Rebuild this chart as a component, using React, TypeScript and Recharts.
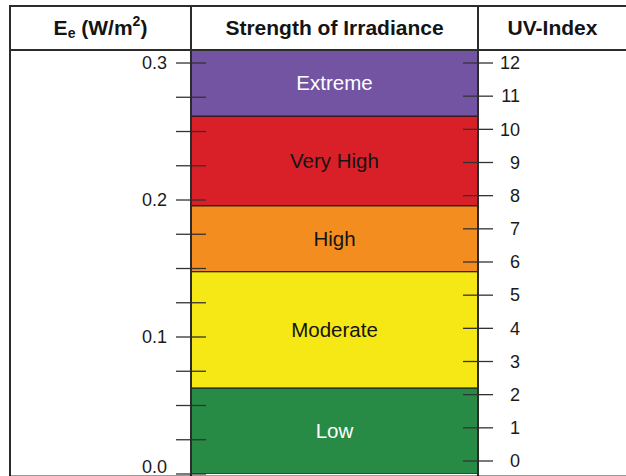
import { BarChart, Bar, XAxis, YAxis, LabelList } from 'recharts';

// UV strength bands, upper edge of each band in W/m²
const bandNames = ['Low', 'Moderate', 'High', 'Very High', 'Extreme'];
const bandTops = [0.0628, 0.1477, 0.1958, 0.2613, 0.31];
const bandColors = ['#278b45', '#f5e814', '#f48d1f', '#d91f27', '#7354a3'];
const bandTextColors = ['#ffffff', '#141414', '#141414', '#141414', '#ffffff'];

// axis ticks
const irradianceTicks = [0, 0.025, 0.05, 0.075, 0.1, 0.125, 0.15, 0.175, 0.2, 0.225, 0.25, 0.275, 0.3];
const irradianceLabelled = [0, 0.1, 0.2, 0.3];
const uvTicks = [0, 1, 2, 3, 4, 5, 6, 7, 8, 9, 10, 11, 12];

const headers = ['Strength of Irradiance', 'UV-Index'];

// stacked bar needs band heights, so take differences of the tops
const row: Record<string, number | string> = { name: 'scale' };
bandNames.forEach((n, i) => {
    row[n] = bandTops[i] - (i === 0 ? 0 : bandTops[i - 1]);
});
const data = [row];

const FONT = '"Liberation Sans", Arial, Helvetica, sans-serif';
const LINE = '#2b2b2b';

const LeftTick = (props: any) => {
    const { x, y, payload } = props;
    const v = payload.value;
    const showLabel = irradianceLabelled.some(t => Math.abs(t - v) < 1e-6);
    return (
        <g>
            <line x1={x - 15} x2={x + 15} y1={y} y2={y} stroke="#333" strokeWidth={1.3} />
            {showLabel && (
                <text
                    x={x - 24}
                    y={y}
                    dy={v === 0 ? -1 : '0.35em'}
                    textAnchor="end"
                    fontSize={18}
                    fontFamily={FONT}
                    fill="#1a1a1a"
                >
                    {v.toFixed(1)}
                </text>
            )}
        </g>
    );
};

const RightTick = (props: any) => {
    const { x, y, payload } = props;
    return (
        <g>
            <line x1={x - 15} x2={x + 15} y1={y} y2={y} stroke="#333" strokeWidth={1.3} />
            <text x={x + 42} y={y} dy="0.35em" textAnchor="end" fontSize={18} fontFamily={FONT} fill="#1a1a1a">
                {payload.value}
            </text>
        </g>
    );
};

const bandLabel = (color: string) => (p: any) => {
    const vb = p.viewBox || p;
    return (
        <text
            x={vb.x + vb.width / 2}
            y={vb.y + vb.height / 2}
            dy="0.35em"
            textAnchor="middle"
            fontSize={20.5}
            fontFamily={FONT}
            fill={color}
        >
            {p.value}
        </text>
    );
};

export default function App() {
    return (
        <div
            style={{
                position: 'absolute',
                left: 0,
                top: 0,
                width: 626,
                height: 476,
                overflow: 'hidden',
                background: '#fff',
                fontFamily: FONT,
            }}
        >
            <div style={{ position: 'absolute', left: 0, top: 0 }}>
                <BarChart
                    width={626}
                    height={476}
                    data={data}
                    margin={{ top: 50, right: 0, bottom: 2, left: 0 }}
                    barCategoryGap={0}
                >
                    <XAxis dataKey="name" hide />
                    {bandNames.map((n, i) => (
                        <Bar
                            key={n}
                            dataKey={n}
                            stackId="uv"
                            yAxisId="e"
                            fill={bandColors[i]}
                            stroke="#1a1a1a"
                            strokeWidth={1}
                            isAnimationActive={false}
                        >
                            <LabelList dataKey={() => n} content={bandLabel(bandTextColors[i])} />
                        </Bar>
                    ))}
                    <YAxis
                        yAxisId="e"
                        orientation="left"
                        width={191}
                        type="number"
                        domain={[0, 0.3095]}
                        allowDataOverflow
                        ticks={irradianceTicks}
                        interval={0}
                        tickSize={0}
                        tickMargin={0}
                        tickLine={false}
                        axisLine={{ stroke: LINE, strokeWidth: 2 }}
                        tick={<LeftTick />}
                    />
                    <YAxis
                        yAxisId="uv"
                        orientation="right"
                        width={148}
                        type="number"
                        domain={[-0.392, 12.392]}
                        allowDataOverflow
                        ticks={uvTicks}
                        interval={0}
                        tickSize={0}
                        tickMargin={0}
                        tickLine={false}
                        axisLine={{ stroke: LINE, strokeWidth: 2 }}
                        tick={<RightTick />}
                    />
                </BarChart>
            </div>

            {/* table frame */}
            <div style={{ position: 'absolute', left: 9, top: 5, width: 617, height: 2, background: LINE }} />
            <div style={{ position: 'absolute', left: 9, top: 48.5, width: 617, height: 2, background: LINE }} />
            <div style={{ position: 'absolute', left: 9, top: 5, width: 2, height: 471, background: LINE }} />
            <div style={{ position: 'absolute', left: 190, top: 5, width: 2, height: 471, background: LINE }} />
            <div style={{ position: 'absolute', left: 477, top: 5, width: 2, height: 471, background: LINE }} />
            <div style={{ position: 'absolute', left: 9, top: 475, width: 617, height: 1, background: 'rgba(0,0,0,0.4)' }} />

            {/* header */}
            <div
                style={{
                    position: 'absolute',
                    left: 11,
                    top: 7,
                    width: 179,
                    height: 42,
                    display: 'flex',
                    alignItems: 'center',
                    justifyContent: 'center',
                    fontWeight: 'bold',
                    fontSize: 21,
                    color: '#141414',
                    whiteSpace: 'nowrap',
                }}
            >
                E<span style={{ fontSize: 14, position: 'relative', top: 5 }}>e</span>&nbsp;(W/m
                <span style={{ fontSize: 14, position: 'relative', top: -7 }}>2</span>)
            </div>
            {headers.map((h, i) => (
                <div
                    key={h}
                    style={{
                        position: 'absolute',
                        left: i === 0 ? 192 : 479,
                        top: 7,
                        width: i === 0 ? 285 : 147,
                        height: 42,
                        display: 'flex',
                        alignItems: 'center',
                        justifyContent: 'center',
                        fontWeight: 'bold',
                        fontSize: 21,
                        color: '#141414',
                        whiteSpace: 'nowrap',
                    }}
                >
                    {h}
                </div>
            ))}
        </div>
    );
}
